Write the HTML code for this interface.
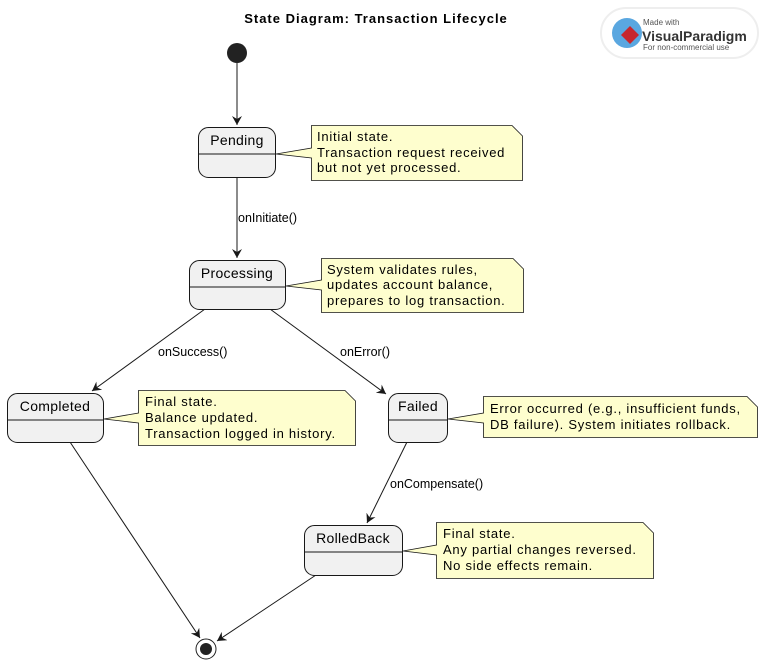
<!DOCTYPE html>
<html><head><meta charset="utf-8"><style>
body{margin:0;background:#fff;}
svg{display:block;font-family:"Liberation Sans",sans-serif;}
</style></head><body>
<svg width="765" height="667" viewBox="0 0 765 667" xmlns="http://www.w3.org/2000/svg">
<defs><marker id="a" markerWidth="10" markerHeight="10" refX="9" refY="5" orient="auto" markerUnits="userSpaceOnUse"><path d="M0,0 L9,5 L0,10 L3,5 Z" fill="#181818"/></marker></defs>
<text x="376" y="23" text-anchor="middle" font-size="13" font-weight="bold" letter-spacing="1">State Diagram: Transaction Lifecycle</text>
<!-- logo -->
<rect x="601" y="8" width="157" height="50" rx="25" fill="#fff" stroke="#eee" stroke-width="2"/>
<circle cx="627" cy="33" r="15" fill="#5aa7e0"/>
<path d="M621,35 l9,-9 l9,9 l-9,9z" fill="#c8262c"/>
<text x="643" y="25" font-size="8" fill="#555">Made with</text>
<text x="642" y="41" font-size="14" font-weight="bold" fill="#333">VisualParadigm</text>
<text x="643" y="50" font-size="8" fill="#555">For non-commercial use</text>
<g stroke="#181818" fill="none" stroke-width="1">
<line x1="237" y1="63" x2="237" y2="125" marker-end="url(#a)"/>
<line x1="237" y1="177" x2="237" y2="258" marker-end="url(#a)"/>
<line x1="205" y1="309" x2="92" y2="391" marker-end="url(#a)"/>
<line x1="270" y1="309" x2="386" y2="394" marker-end="url(#a)"/>
<line x1="407" y1="442" x2="367" y2="523" marker-end="url(#a)"/>
<line x1="70" y1="442" x2="200" y2="638" marker-end="url(#a)"/>
<line x1="316" y1="575" x2="217" y2="641" marker-end="url(#a)"/>
</g>
<circle cx="237" cy="53" r="10" fill="#222"/>
<circle cx="206" cy="649" r="10" fill="#fff" stroke="#222"/>
<circle cx="206" cy="649" r="6" fill="#222"/>
<g fill="#f1f1f1" stroke="#181818">
<rect x="198.5" y="127.5" width="77" height="50" rx="10"/><line x1="198.5" y1="154" x2="275.5" y2="154"/>
<rect x="189.5" y="260.5" width="96" height="49" rx="10"/><line x1="189.5" y1="287" x2="285.5" y2="287"/>
<rect x="7.5" y="393.5" width="96" height="49" rx="10"/><line x1="7.5" y1="420" x2="103.5" y2="420"/>
<rect x="388.5" y="393.5" width="59" height="49" rx="10"/><line x1="388.5" y1="420" x2="447.5" y2="420"/>
<rect x="304.5" y="525.5" width="98" height="50" rx="10"/><line x1="304.5" y1="552" x2="402.5" y2="552"/>
</g>
<g font-size="14" text-anchor="middle" fill="#000" letter-spacing="0.3">
<text x="237" y="145">Pending</text>
<text x="237" y="278">Processing</text>
<text x="55" y="411">Completed</text>
<text x="418" y="411">Failed</text>
<text x="353" y="543">RolledBack</text>
</g>
<g font-size="12.5" fill="#000">
<text x="238" y="222">onInitiate()</text>
<text x="158" y="356">onSuccess()</text>
<text x="340" y="356">onError()</text>
<text x="390" y="488">onCompensate()</text>
</g>
<g fill="#fefece" stroke="#181818" stroke-width="0.8">
<path d="M311.5,125.5 H512 L522.5,136 V180.5 H311.5 V158 L276,154 L311.5,148 Z"/>
<path d="M321.5,258.5 H513 L523.5,269 V312.5 H321.5 V290 L286,286 L321.5,280 Z"/>
<path d="M138.5,390.5 H345 L355.5,401 V445.5 H138.5 V423 L104,419 L138.5,413 Z"/>
<path d="M483.5,396.5 H747 L757.5,407 V437.5 H483.5 V423 L448,419 L483.5,413 Z"/>
<path d="M436.5,522.5 H643 L653.5,533 V578.5 H436.5 V555 L403,551 L436.5,545 Z"/>
</g>
<g font-size="13" fill="#000" letter-spacing="0.75">
<text x="317" y="141">Initial state.</text><text x="317" y="157">Transaction request received</text><text x="317" y="172">but not yet processed.</text>
<text x="327" y="274">System validates rules,</text><text x="327" y="289">updates account balance,</text><text x="327" y="305">prepares to log transaction.</text>
<text x="145" y="406">Final state.</text><text x="145" y="422">Balance updated.</text><text x="145" y="438">Transaction logged in history.</text>
<text x="490" y="413">Error occurred (e.g., insufficient funds,</text><text x="490" y="429">DB failure). System initiates rollback.</text>
<text x="443" y="538">Final state.</text><text x="443" y="554">Any partial changes reversed.</text><text x="443" y="570">No side effects remain.</text>
</g>
</svg>
</body></html>
